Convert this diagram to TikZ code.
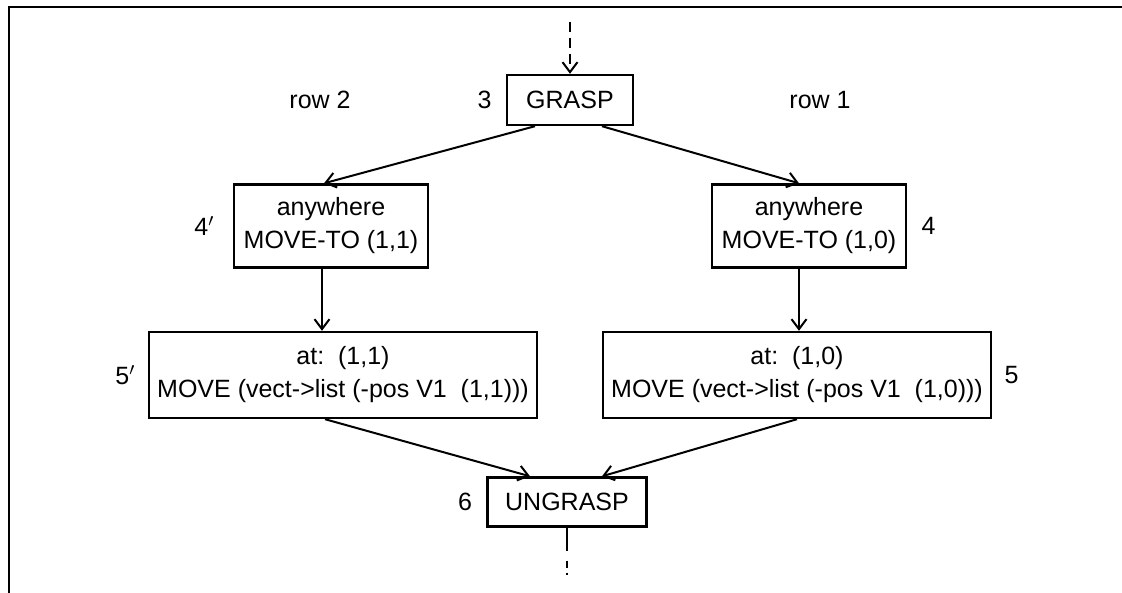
\documentclass[tikz,border=0pt]{standalone}
\usepackage{fontspec}
\setmainfont{Liberation Sans}
\usetikzlibrary{arrows.meta, positioning}

\begin{document}
\begin{tikzpicture}[x=0.5pt,y=-0.5pt,
 font=\fontsize{12.5}{16.5}\selectfont,
 node distance=7pt and 7pt,
 box/.style={rectangle,draw=black,line width=1.2pt,align=center,inner sep=0pt},
 lbl/.style={inner sep=0pt},
 flow/.style={-{Straight Barb[length=5pt,width=7.5pt,line width=1pt]},line width=1pt}]
 \useasboundingbox (0,0) rectangle (1122,593);
 % frame edges kept from the scan
 \draw[line width=1.4pt] (1122,7) -- (9,7) -- (9,593);

 \node[box,minimum width=63pt,minimum height=25pt] (grasp) at (570,100) {GRASP};
 \node[box,minimum width=97pt,minimum height=41.5pt] (anyL) at (331,226)
   {anywhere\\MOVE-TO (1,1)};
 \node[box,minimum width=97pt,minimum height=41.5pt] (anyR) at (809,226)
   {anywhere\\MOVE-TO (1,0)};
 \node[box,minimum width=194pt,minimum height=43pt] (atL) at (343,375)
   {at:~\ (1,1)\\MOVE (vect->list (-pos V1~\ (1,1)))};
 \node[box,minimum width=194pt,minimum height=43pt] (atR) at (797,375)
   {at:~\ (1,0)\\MOVE (vect->list (-pos V1~\ (1,0)))};
 \node[box,minimum width=79.5pt,minimum height=24.5pt] (ungrasp) at (567,502) {UNGRASP};

 \node[lbl,left=of grasp] (n3) {3};
 \node[lbl,left=9pt of anyL] (n4p) {4$'$};
 \node[lbl,right=of anyR] (n4) {4};
 \node[lbl,left=6pt of atL] (n5p) {5$'$};
 \node[lbl,right=6pt of atR] (n5) {5};
 \node[lbl,left=of ungrasp] (n6) {6};
 \node[lbl] (row2) at (320,100) {row 2};
 \node[lbl] (row1) at (820,100) {row 1};

 \coordinate (in) at (570,22);
 \coordinate (out) at (567,575);
 \draw[flow,dash pattern=on 5pt off 3pt] (in) -- (grasp.north);
 \draw[line width=1pt,dash pattern=on 11.5pt off 5pt on 3.5pt off 2.5pt on 2.5pt off 10pt]
   (ungrasp.south) -- (out);

 \draw[flow] ([xshift=-17.5pt]grasp.south) -- ([xshift=-3.5pt]anyL.north);
 \draw[flow] ([xshift=16pt]grasp.south) -- ([xshift=-5pt]anyR.north);
 \draw[flow] ([xshift=-4.5pt]anyL.south) -- ([xshift=-4.5pt]anyL.south |- atL.north);
 \draw[flow] ([xshift=-5pt]anyR.south) -- ([xshift=-5pt]anyR.south |- atR.north);
 \draw[flow] ([xshift=-9pt]atL.south) -- ([xshift=-18.5pt]ungrasp.north);
 \draw[flow] (atR.south) -- ([xshift=17.5pt]ungrasp.north);
\end{tikzpicture}
\end{document}
